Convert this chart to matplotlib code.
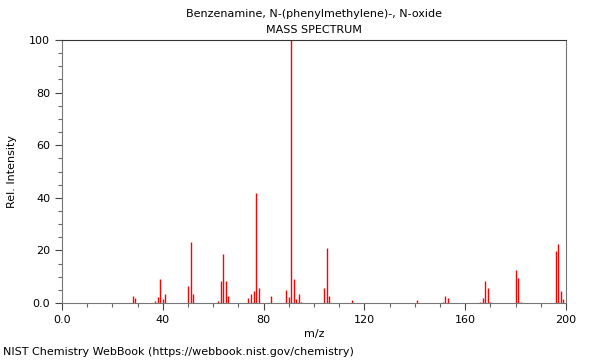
import matplotlib as mpl
import matplotlib.pyplot as plt
from matplotlib.ticker import MultipleLocator

mpl.rcParams['font.family'] = 'DejaVu Sans'
mpl.rcParams['font.size'] = 8

# peaks: m/z and relative intensity (%)
mz = [28, 29, 37, 38, 39, 40, 41, 50, 51, 52, 62, 63, 64, 65, 66,
      74, 75, 76, 77, 78, 83, 89, 90, 91, 92, 93, 94, 95,
      104, 105, 106, 115, 141, 151, 152, 153,
      166, 167, 168, 169, 170, 180, 181, 182, 196, 197, 198, 199]
intensity = [2.8, 1.9, 0.8, 2.3, 9.0, 1.5, 3.4, 6.5, 23.2, 3.4, 0.9, 8.4, 18.6, 8.4, 2.8,
             1.9, 3.4, 4.6, 41.8, 5.8, 2.8, 4.9, 2.3, 100.0, 9.0, 1.5, 3.4, 0.4,
             5.8, 21.0, 2.8, 1.0, 1.0, 0.4, 2.8, 1.9,
             0.4, 1.9, 8.4, 5.8, 0.4, 12.7, 9.6, 0.4, 19.9, 22.4, 4.6, 1.6]

title = "Benzenamine, N-(phenylmethylene)-, N-oxide"
subtitle = "MASS SPECTRUM"
footer = "NIST Chemistry WebBook (https://webbook.nist.gov/chemistry)"

fig = plt.figure(figsize=(6, 3.6), dpi=100)
ax = fig.add_axes([0.1033, 0.1583, 0.84, 0.7306])

ax.vlines(mz, 0, intensity, color="red", linewidth=1)

ax.set_xlim(0, 200)
ax.set_ylim(0, 100)
ax.xaxis.set_major_locator(MultipleLocator(40))
ax.xaxis.set_minor_locator(MultipleLocator(10))
ax.yaxis.set_major_locator(MultipleLocator(20))
ax.yaxis.set_minor_locator(MultipleLocator(5))
ax.set_xticks([0, 40, 80, 120, 160, 200], ["0.0", "40", "80", "120", "160", "200"])
ax.set_yticks([0, 20, 40, 60, 80, 100], ["0.0", "20", "40", "60", "80", "100"])
ax.tick_params(which="major", direction="out", length=5, width=0.8, color="#444444")
ax.tick_params(which="minor", direction="out", length=3, width=0.8, color="#666666")

for side in ["left", "right", "bottom"]:
    ax.spines[side].set_color("#777777")
ax.spines["top"].set_color("#333333")

ax.set_xlabel("m/z", labelpad=3)
ax.set_ylabel("Rel. Intensity", labelpad=9)

# titles are centred over the plot area, not the figure
xc = 0.1033 + 0.84 / 2
fig.text(xc, 0.962, title, ha="center", va="center")
fig.text(xc, 0.916, subtitle, ha="center", va="center")
fig.text(0.005, 0.022, footer, ha="left", va="center")

fig.savefig("out.png", dpi=100)
